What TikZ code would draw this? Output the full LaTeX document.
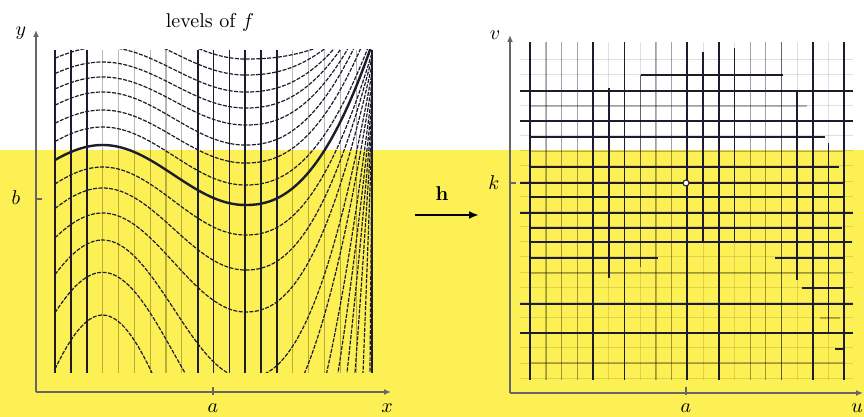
\documentclass[tikz,border=0pt]{standalone}
\usetikzlibrary{arrows.meta}
\definecolor{ybg}{RGB}{253,240,85}
\definecolor{dkc}{RGB}{28,28,44}
\begin{document}
\begin{tikzpicture}[x=0.5pt,y=-0.5pt,
  dk/.style={line width=0.85pt, draw=dkc},
  md/.style={line width=0.7pt, draw=black, draw opacity=0.55},
  lt/.style={line width=0.6pt, draw=black, draw opacity=0.28},
  ft/.style={line width=0.5pt, draw=black, draw opacity=0.12},
  lvl/.style={line width=0.6pt, draw=dkc, dash pattern=on 2pt off 0.7pt},
  boldlvl/.style={line width=1.2pt, draw=dkc},
  axisline/.style={line width=0.7pt, draw=black!60, -{Latex[length=3.5pt,width=3pt]}},
  tickline/.style={line width=0.7pt, draw=black!60},
  harrow/.style={line width=1.2pt, draw=black, -{Latex[length=5pt,width=4pt]}},
  lab/.style={inner sep=0pt, font=\normalsize}
]
\useasboundingbox (0,0) rectangle (864,417);
\fill[white] (0,0) rectangle (864,150);
\fill[ybg] (0,150) rectangle (864,417);

% ---------- left panel ----------
\foreach \i in {0,...,20}{
  \pgfmathsetmacro\xx{55+15.85*\i}
  \ifnum\i<3 \draw[dk] (\xx,50) -- (\xx,373);
  \else\ifnum\i<9 \draw[lt] (\xx,50) -- (\xx,373);
  \else\ifnum\i<15 \draw[dk] (\xx,50) -- (\xx,373);
  \else\ifnum\i<20 \draw[lt] (\xx,50) -- (\xx,373);
  \else \draw[dk] (\xx,50) -- (\xx,373);
  \fi\fi\fi\fi
}
\begin{scope}
\clip (55,50) rectangle (372,373);
\foreach \c/\a/\e in {335.5/21.5/356, 320/22/375, 303.5/22.5/379, 288/23/378, 272/24/372,
  254.5/26.5/366, 236.5/26.5/352, 217/29/336, 172/34/320, 144/41/315, 110.5/49.5/308,
  64/69/300, 19.7/81/290, -50/108/280}{
  \pgfmathsetmacro\m{\c-\a}
  \pgfmathsetmacro\r{\e-\m}
  \draw[lvl] plot[domain=0:0.6, samples=50] ({55+317*\x},{373-\c-\a*cos(400*(\x-0.15))})
    -- plot[domain=0.0001:1, samples=140] ({55+317*(0.6+0.4*\x)},{373-\m-\r*\x^2.3});
}
\foreach \m/\e/\t in {-257/270/0.70, -395/260/0.78, -637/250/0.85, -1302/240/0.92, -6106/230/0.98}{
  \pgfmathsetmacro\r{\e-\m}
  \draw[lvl] plot[domain=\t:1, samples=60] ({55+317*(0.6+0.4*\x)},{373-\m-\r*\x^2.3});
}
\draw[boldlvl] plot[domain=0:0.6, samples=50] ({55+317*\x},{373-198-30*cos(400*(\x-0.15))})
    -- plot[domain=0.0001:1, samples=140] ({55+317*(0.6+0.4*\x)},{373-168-161*\x^2.3});
\end{scope}

% left axes
\coordinate (O1) at (36,392);
\coordinate (Y1) at (36,30);
\coordinate (X1) at (391,392);
\draw[axisline] (O1) -- (Y1);
\draw[axisline] (O1) -- (X1);
\coordinate (ta1) at (213,387); \coordinate (ta2) at (213,395);
\draw[tickline] (ta1) -- (ta2);
\coordinate (tb1) at (36,199); \coordinate (tb2) at (42,199);
\draw[tickline] (tb1) -- (tb2);
\node[lab] (ly) at (21,33) {$y$};
\node[lab] (lb) at (16,198) {$b$};
\node[lab] (la) at (213,408) {$a$};
\node[lab] (lx) at (387,408) {$x$};
\node[lab] (title) at (210,22) {levels of $f$};

% ---------- arrow h ----------
\coordinate (hs) at (415,215);
\coordinate (he) at (479,215);
\draw[harrow] (hs) -- (he);
\node[lab] (hl) at (442,194) {$\mathbf{h}$};

% ---------- right panel ----------
\foreach \k in {-1,...,20}{
  \pgfmathsetmacro\yy{75+15.16*\k}
  \draw[ft] (520,\yy) -- (853,\yy);
}
\foreach \j in {0,...,20}{
  \pgfmathsetmacro\xx{530.3+15.7*\j}
  \draw[ft] (\xx,42) -- (\xx,380);
}
% light vertical lines
\foreach \j in {1,2,3,8,9,14,15}{
  \pgfmathsetmacro\xx{530.3+15.7*\j}
  \draw[lt] (\xx,42) -- (\xx,380);
}
% light horizontal lines
\foreach \y/\xa/\xb in {106/529/807, 318/820/840, 151.7/529/845, 273/529/845, 363/529/845}{
  \draw[lt] (\xa,\y) -- (\xb,\y);
}
% dark horizontal lines
\foreach \y/\xa/\xb in {75/641/783, 90.7/520/853, 120.7/520/853, 136.7/529/825,
  166.7/529/839, 182.7/520/845, 196.7/529/845, 212.7/520/853, 228/529/842,
  242/529/852, 258/529/658, 258/775/845, 288/802/845, 304/520/853, 333/520/853, 349/835/845}{
  \draw[dk] (\xa,\y) -- (\xb,\y);
}
% vertical lines
\foreach \j/\ya/\yb in {0/42/380, 4/42/380, 5/88/278, 6/42/380, 10/42/380, 11/52/242,
  12/42/380, 13/48/242, 17/90/280, 18/42/380, 19/143/333, 20/42/380}{
  \pgfmathsetmacro\xx{530.3+15.7*\j}
  \draw[dk] (\xx,\ya) -- (\xx,\yb);
}
\foreach \j/\ya/\yb in {7/75/267, 16/42/380}{
  \pgfmathsetmacro\xx{530.3+15.7*\j}
  \draw[md] (\xx,\ya) -- (\xx,\yb);
}

% right axes
\coordinate (O2) at (510,393);
\coordinate (V2) at (510,35);
\coordinate (U2) at (863,393);
\draw[axisline] (O2) -- (V2);
\draw[axisline] (O2) -- (U2);
\coordinate (tk1) at (510,183); \coordinate (tk2) at (516,183);
\draw[tickline] (tk1) -- (tk2);
\coordinate (tu1) at (686,387); \coordinate (tu2) at (686,395);
\draw[tickline] (tu1) -- (tu2);
\node[lab] (lv) at (495,35) {$v$};
\node[lab] (lk) at (494,183) {$k$};
\node[lab] (la2) at (686,408) {$a$};
\node[lab] (lu) at (857,408) {$u$};
\node[circle, draw=dkc, fill=white, line width=0.5pt, inner sep=0pt, minimum size=3pt] (pt) at (686,183) {};
\end{tikzpicture}
\end{document}
